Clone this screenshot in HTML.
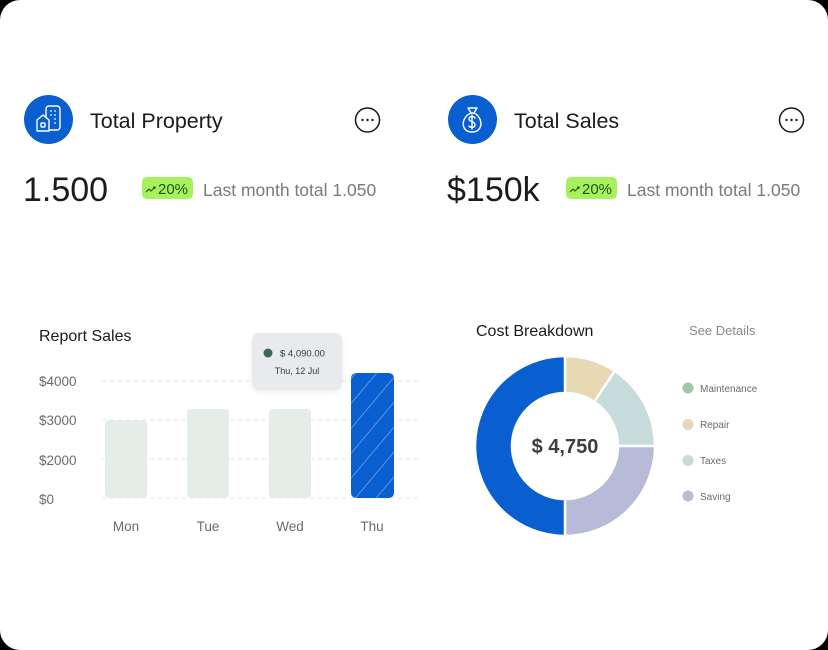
<!DOCTYPE html>
<html><head><meta charset="utf-8"><style>
html,body{margin:0;padding:0;background:#000;width:828px;height:650px;overflow:hidden}
.card{position:absolute;left:0;top:0;width:828px;height:650px;background:#fff;border-radius:20px}
svg{position:absolute;left:0;top:0}
text{font-family:"Liberation Sans",sans-serif}
</style></head><body>
<div class="card"></div>
<svg width="828" height="650" viewBox="0 0 828 650" xmlns="http://www.w3.org/2000/svg">
<defs>
<pattern id="st" patternUnits="userSpaceOnUse" width="16" height="16" patternTransform="rotate(40)">
<line x1="0" y1="0" x2="0" y2="16" stroke="#ffffff" stroke-opacity="0.55" stroke-width="1.2"/>
</pattern>
<filter id="sh" x="-20%" y="-20%" width="140%" height="160%"><feDropShadow dx="0" dy="2" stdDeviation="3" flood-color="#000" flood-opacity="0.08"/></filter>
</defs>

<!-- Left header -->
<circle cx="48.5" cy="119.5" r="24.5" fill="#0A5FD0"/>
<g fill="none" stroke="#fff" stroke-width="1.4" stroke-linejoin="round">
<rect x="46" y="106" width="14" height="24" rx="3"/>
<path d="M37 120 L43 115 L49 120 L49 131 L37 131 Z" fill="#0A5FD0"/>
<rect x="41" y="123" width="4" height="4" rx="1"/>
</g>
<g fill="#fff"><circle cx="51" cy="111" r="0.9"/><circle cx="55" cy="111" r="0.9"/><circle cx="51" cy="115" r="0.9"/><circle cx="55" cy="115" r="0.9"/><circle cx="55" cy="119" r="0.9"/><circle cx="55" cy="123" r="0.9"/></g>
<text x="90" y="128" font-size="21.5" fill="#1b1b1b">Total Property</text>
<circle cx="367.5" cy="120" r="12" fill="none" stroke="#1b1b1b" stroke-width="1.5"/>
<g fill="#1b1b1b"><circle cx="362.5" cy="120" r="1.2"/><circle cx="367.5" cy="120" r="1.2"/><circle cx="372.5" cy="120" r="1.2"/></g>
<text x="23" y="201" font-size="34" fill="#1b1b1b">1.500</text>
<rect x="142" y="177" width="51" height="22" rx="5" fill="#A7F25C"/>
<path d="M146 192 L149 189 L151 191 L155 187 M153 187 L155 187 L155 189" fill="none" stroke="#24501a" stroke-width="1.1"/>
<text x="158" y="194" font-size="15" fill="#24501a">20%</text>
<text x="203" y="196" font-size="17.5" fill="#7a7a7a">Last month total 1.050</text>

<!-- Right header -->
<circle cx="472.5" cy="119.5" r="24.5" fill="#0A5FD0"/>
<g fill="none" stroke="#fff" stroke-width="1.4" stroke-linejoin="round" stroke-linecap="round">
<path d="M468 108 L477 108 L474 113 L471 113 Z"/>
<path d="M471 113 C461 117 460 132 472 132 C484 132 483 117 474 113"/>
<path d="M475 118 C474 116 469 116 469 119 C469 122 475 121 475 125 C475 128 470 128 469 126 M472 115 L472 129"/>
</g>
<text x="514" y="128" font-size="21.5" fill="#1b1b1b">Total Sales</text>
<circle cx="791.5" cy="120" r="12" fill="none" stroke="#1b1b1b" stroke-width="1.5"/>
<g fill="#1b1b1b"><circle cx="786.5" cy="120" r="1.2"/><circle cx="791.5" cy="120" r="1.2"/><circle cx="796.5" cy="120" r="1.2"/></g>
<text x="447" y="201" font-size="34" fill="#1b1b1b">$150k</text>
<rect x="566" y="177" width="51" height="22" rx="5" fill="#A7F25C"/>
<path d="M570 192 L573 189 L575 191 L579 187 M577 187 L579 187 L579 189" fill="none" stroke="#24501a" stroke-width="1.1"/>
<text x="582" y="194" font-size="15" fill="#24501a">20%</text>
<text x="627" y="196" font-size="17.5" fill="#7a7a7a">Last month total 1.050</text>

<!-- Report Sales -->
<text x="39" y="341" font-size="16" fill="#1b1b1b">Report Sales</text>
<g stroke="#e4e4e4" stroke-width="1" stroke-dasharray="4 4">
<line x1="102" y1="381" x2="420" y2="381"/>
<line x1="102" y1="420" x2="420" y2="420"/>
<line x1="102" y1="459" x2="420" y2="459"/>
<line x1="102" y1="498" x2="420" y2="498"/>
</g>
<g font-size="13.5" fill="#6b6b6b">
<text x="39" y="386">$4000</text>
<text x="39" y="425">$3000</text>
<text x="39" y="465">$2000</text>
<text x="39" y="504">$0</text>
</g>
<g fill="#E6ECE8">
<rect x="105" y="420" width="42" height="78" rx="4"/>
<rect x="187" y="409" width="42" height="89" rx="4"/>
<rect x="269" y="409" width="42" height="89" rx="4"/>
</g>
<rect x="351" y="373" width="43" height="125" rx="5" fill="#0A5FD0"/>
<rect x="351" y="373" width="43" height="125" rx="5" fill="url(#st)"/>
<g font-size="13.5" fill="#6b6b6b" text-anchor="middle">
<text x="126" y="531">Mon</text>
<text x="208" y="531">Tue</text>
<text x="290" y="531">Wed</text>
<text x="372" y="531">Thu</text>
</g>
<rect x="252" y="333" width="90" height="57" rx="7" fill="#E8EAEE" filter="url(#sh)"/>
<circle cx="268" cy="353" r="4.5" fill="#3F6650"/>
<text x="280" y="356.5" font-size="9.5" fill="#3a3a3a">$ 4,090.00</text>
<text x="297" y="374" font-size="9" fill="#3a3a3a" text-anchor="middle">Thu, 12 Jul</text>

<!-- Cost Breakdown -->
<text x="476" y="336" font-size="16" fill="#1b1b1b">Cost Breakdown</text>
<text x="689" y="335" font-size="13" fill="#8a8a8a">See Details</text>
<g stroke="#fff" stroke-width="2.5" stroke-linejoin="round">
<path d="M565 356 A90 90 0 0 1 614.7 370.9 L594.3 401.8 A53 53 0 0 0 565 393 Z" fill="#E8D9B5"/>
<path d="M614.7 370.9 A90 90 0 0 1 655 446 L618 446 A53 53 0 0 0 594.3 401.8 Z" fill="#C6DCDB"/>
<path d="M655 446 A90 90 0 0 1 565 536 L565 499 A53 53 0 0 0 618 446 Z" fill="#B7BBD7"/>
<path d="M565 536 A90 90 0 0 1 565 356 L565 393 A53 53 0 0 0 565 499 Z" fill="#0A5FD0"/>
</g>
<text x="565" y="453" font-size="20" font-weight="bold" fill="#3d3d3d" text-anchor="middle">$ 4,750</text>
<circle cx="688" cy="388" r="5.5" fill="#9DC9A8"/>
<circle cx="688" cy="424.5" r="5.5" fill="#E8D9B5"/>
<circle cx="688" cy="460.5" r="5.5" fill="#C6DCDB"/>
<circle cx="688" cy="496" r="5.5" fill="#B7BBD7"/>
<g font-size="10" fill="#6b6b6b">
<text x="700" y="392">Maintenance</text>
<text x="700" y="428">Repair</text>
<text x="700" y="464">Taxes</text>
<text x="700" y="500">Saving</text>
</g>
</svg>
</body></html>
